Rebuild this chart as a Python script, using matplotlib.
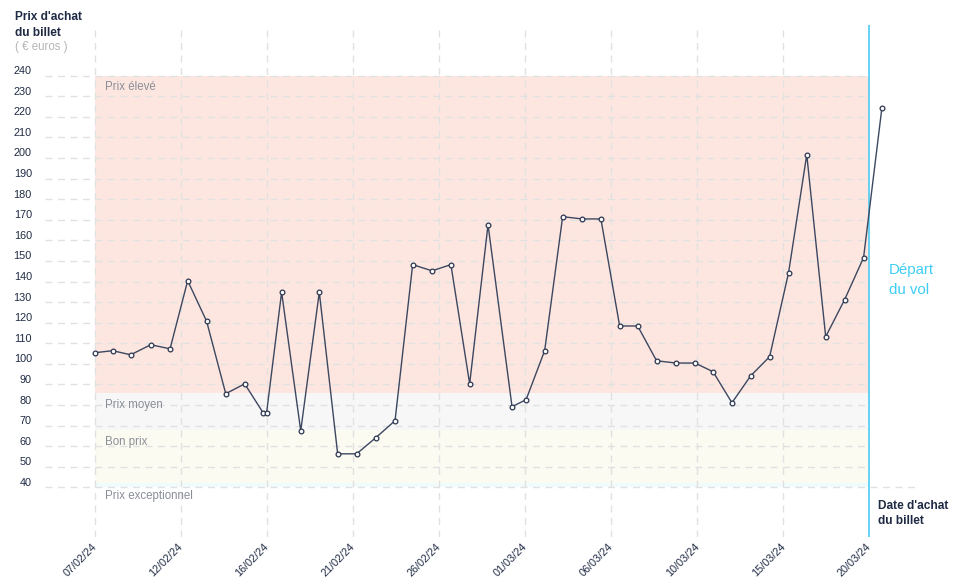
import numpy as np
import matplotlib
matplotlib.use("Agg")
import matplotlib.pyplot as plt
from matplotlib.transforms import ScaledTranslation

plt.rcParams['font.family'] = ['Liberation Sans', 'DejaVu Sans']

# jours depuis le 07/02/24 (heure d'achat incluse)
jours = [0, 0.96, 1.92, 2.99, 4.02, 4.96, 5.97, 6.99, 8.0, 8.98, 9.17, 9.97,
         10.99, 11.98, 12.96, 13.97, 14.99, 16.02, 16.96, 17.99, 19.0, 20.0,
         20.98, 22.26, 23.01, 24.0, 24.96, 25.99, 27.0, 28.0, 28.96, 29.97,
         31.0, 32.02, 32.98, 33.99, 34.99, 36.0, 37.01, 37.98, 38.99, 40.0,
         41.01, 41.99]
prix = [105.4, 106.4, 104.4, 109.3, 107.3, 140.4, 120.7, 85.5, 90.3, 76.3,
        76.3, 134.8, 67.5, 134.8, 56.3, 56.3, 64.1, 72.4, 148.2, 145.2, 148.2,
        90.3, 167.6, 79.2, 82.6, 106.4, 171.5, 170.4, 170.4, 118.4, 118.4,
        101.5, 100.4, 100.4, 96.2, 81.1, 94.2, 103.5, 144.3, 201.6, 113.2,
        131.2, 151.6, 224.5]

date_labels = ['07/02/24', '12/02/24', '16/02/24', '21/02/24', '26/02/24',
               '01/03/24', '06/03/24', '10/03/24', '15/03/24', '20/03/24']
y_ticks = list(range(40, 250, 10))

depart = 41.3  # jour du départ du vol

zones = [
    ('Prix élevé', 86, 240, '#fde6e0'),
    ('Prix moyen', 68, 86, '#f7f7f7'),
    ('Bon prix', 42, 68, '#fbfbf1'),
    ('Prix exceptionnel', 40, 42, '#f0fbfd'),
]

navy = '#1f2a44'
grey_txt = '#8a8e98'
grid_c = '#e1e1e1'

W, H = 958, 585
fig = plt.figure(figsize=(W / 100, H / 100), dpi=100)
ax = fig.add_axes([45 / W, 1 - 537 / H, 875 / W, 512 / H])
ax.set_xlim(-2.65, 44.02)
ax.set_ylim(15.9, 264.6)
for s in ax.spines.values():
    s.set_visible(False)

# zones de prix
for name, lo, hi, col in zones:
    ax.fill_between([0, depart], lo, hi, color=col, lw=0, zorder=0)

label_y = {'Prix élevé': 234.5, 'Prix moyen': 80, 'Bon prix': 62, 'Prix exceptionnel': 36}
for name, lo, hi, col in zones:
    ax.text(0.55, label_y[name], name, color=grey_txt, fontsize=8.3,
            va='center', ha='left', zorder=2)

# grille
ticks_x = np.linspace(0, depart, 10)
for t in ticks_x[:-1]:
    ax.axvline(t, color=grid_c, lw=1, ls=(0, (5, 4)), zorder=1)
for v in y_ticks:
    x1 = 44.0 if v == 40 else depart
    ax.plot([-2.65, x1], [v, v], color=grid_c, lw=1, ls=(0, (5, 4)), zorder=1)

ax.axvline(depart, color='#4ccbf2', lw=1.2, zorder=3)

ax.plot(jours, prix, color='#3c4760', lw=1, marker='o', ms=3.4,
        mfc='white', mec='#2c3650', mew=0.9, zorder=4)

ax.set_xticks(ticks_x)
ax.set_xticklabels(date_labels, rotation=45, ha='right', va='top',
                   rotation_mode='anchor', fontsize=7.8, color=navy)
ax.set_yticks(y_ticks)
ax.set_yticklabels([str(v) for v in y_ticks], fontsize=7.8, color=navy)
ax.tick_params(axis='both', length=0)
ax.tick_params(axis='x', pad=3)
ax.tick_params(axis='y', pad=9.5)
off = ScaledTranslation(0, 0.055, fig.dpi_scale_trans)
for lab in ax.get_yticklabels():
    lab.set_transform(lab.get_transform() + off)
offx = ScaledTranslation(-0.03, 0, fig.dpi_scale_trans)
for lab in ax.get_xticklabels():
    lab.set_transform(lab.get_transform() + offx)

# textes
fig.text(15 / W, 1 - 17 / H, "Prix d'achat", fontsize=8.6, fontweight='bold',
         color=navy, va='center')
fig.text(15 / W, 1 - 33 / H, "du billet", fontsize=8.6, fontweight='bold',
         color=navy, va='center')
fig.text(15 / W, 1 - 47 / H, "( € euros )", fontsize=8.3, color='#b5b5b5',
         va='center')
fig.text(878 / W, 1 - 506 / H, "Date d'achat", fontsize=8.6, fontweight='bold',
         color=navy, va='center')
fig.text(878 / W, 1 - 521 / H, "du billet", fontsize=8.6, fontweight='bold',
         color=navy, va='center')
fig.text(889 / W, 1 - 270 / H, "Départ", fontsize=10.8, color='#3fcdf5',
         va='center')
fig.text(889 / W, 1 - 290 / H, "du vol", fontsize=10.8, color='#3fcdf5',
         va='center')

fig.savefig('out.png', dpi=100)
